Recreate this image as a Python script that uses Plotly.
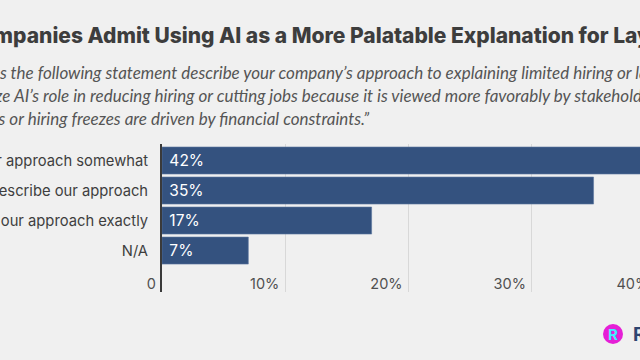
import plotly.graph_objects as go

categories = [
    "Describes our approach somewhat",
    "Does not describe our approach",
    "Describes our approach exactly",
    "N/A",
]
values = [42, 35, 17, 7]
tick_vals = [0, 10, 20, 30, 40]
tick_text = ["0", "10%", "20%", "30%", "40%"]

title_text = "Companies Admit Using AI as a More Palatable Explanation for Layoffs"
sub_lines = [
    ("Does the following statement describe your company’s approach to explaining limited hiring or layoffs?", -31),
    ("“We emphasize AI’s role in reducing hiring or cutting jobs because it is viewed more favorably by stakeholders than saying", -99),
    ("layoffs or hiring freezes are driven by financial constraints.”", -43),
]

W, H = 680, 360
ML, MR, MT, MB = 162, 0, 144, 68
PW = W - ML - MR
BG = "#f0f0f0"
BAR = "#34527f"

def px2paper(px):
    return (px - ML) / PW

def py2paper(py):
    return (H - MB - py) / (H - MT - MB)

fig = go.Figure()
fig.add_trace(go.Bar(
    x=values, y=categories, orientation="h",
    marker=dict(color=BAR, line=dict(color="#5d77a0", width=0.6)),
    texttemplate="\u00a0%{x}%", textposition="inside", insidetextanchor="start",
    textfont=dict(color="white", size=15.5, family="Inter"),
    constraintext="none", textangle=0,
    width=0.9,
))

fig.update_layout(
    width=W, height=H,
    margin=dict(l=ML, r=MR, t=MT, b=MB, autoexpand=False),
    paper_bgcolor=BG, plot_bgcolor=BG,
    showlegend=False,
    font=dict(family="Inter", color="#444"),
)
fig.update_xaxes(
    range=[0, PW / 12.33],
    tickvals=tick_vals, ticktext=tick_text,
    showgrid=True, gridcolor="#d8d8d8", gridwidth=1,
    zeroline=False, showline=False,
    ticks="", ticklabelposition="outside left", ticklabelshift=-6,
    anchor="free", position=0.127,
    tickfont=dict(size=14.5, color="#505050", family="Inter"),
)
fig.update_yaxes(
    categoryorder="array", categoryarray=categories,
    range=[4.38, -0.55],
    showgrid=False, zeroline=False,
    showline=True, linecolor="#3a3a3a", linewidth=2,
    ticks="outside", ticklen=9, tickcolor="rgba(0,0,0,0)",
    tickfont=dict(size=14.75, color="#3e3e3e", family="Inter"),
    automargin=False,
)

ann = [dict(
    text=title_text, xref="paper", yref="paper",
    x=px2paper(-37), y=py2paper(36), xanchor="left", yanchor="middle",
    showarrow=False, font=dict(size=21, color="#3d3d3d", family="Inter", weight=800),
)]
for (t, off), yy in zip(sub_lines, [73, 95.5, 118]):
    ann.append(dict(
        text="<i>" + t + "</i>", xref="paper", yref="paper",
        x=px2paper(off), y=py2paper(yy), xanchor="left", yanchor="middle",
        showarrow=False, font=dict(size=17, color="#555555", family="Lato"),
    ))
ann.append(dict(
    text="<b>R</b>", xref="paper", yref="paper",
    x=px2paper(613), y=py2paper(334), xanchor="center", yanchor="middle",
    showarrow=False, font=dict(size=15, color="#3ef0ff", family="Inter"),
))
ann.append(dict(
    text="<b>Resume</b>", xref="paper", yref="paper",
    x=px2paper(631), y=py2paper(334), xanchor="left", yanchor="middle",
    showarrow=False, font=dict(size=19, color="#2e4470", family="Inter"),
))
fig.update_layout(annotations=ann)
fig.add_shape(
    type="circle", xref="paper", yref="paper",
    x0=px2paper(603), x1=px2paper(623), y0=py2paper(344), y1=py2paper(324),
    fillcolor="#e51fd6", line=dict(width=0), layer="below",
)

fig.write_html(
    "out.html",
    config={"displayModeBar": False},
    post_script="document.documentElement.style.overflow='hidden';document.body.style.overflow='hidden';document.body.style.margin='0';",
)
